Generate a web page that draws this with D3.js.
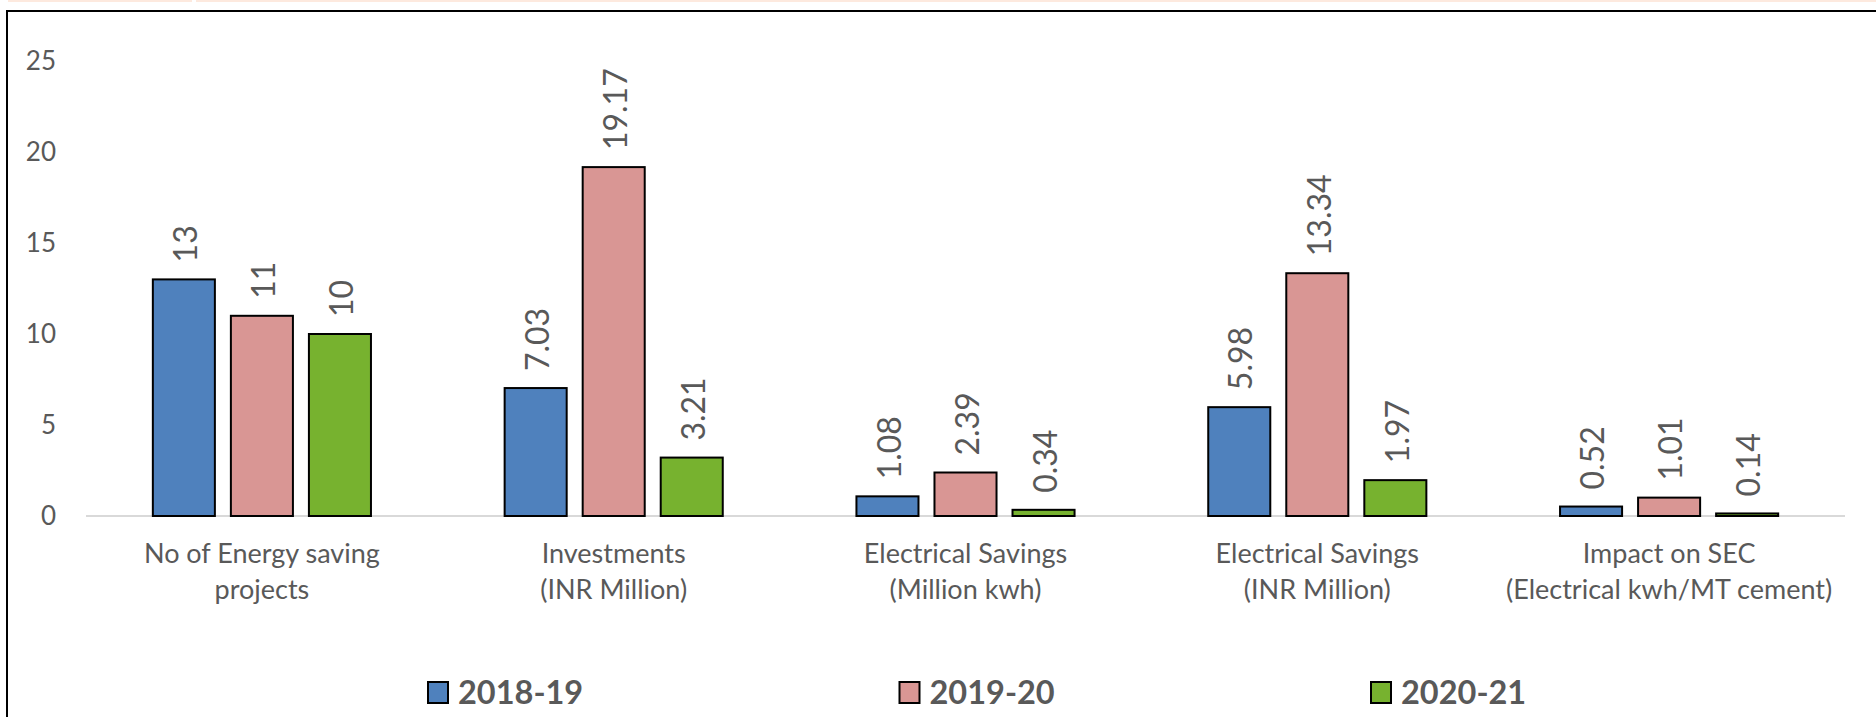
<!DOCTYPE html>
<html>
<head>
<meta charset="utf-8">
<script src="https://cdn.jsdelivr.net/npm/d3@7"></script>
<style>
    html, body { margin: 0; padding: 0; background: #ffffff; }
    svg { display: block; }
</style>
</head>
<body>
<div id="chart"></div>
<script>
// Chart data
var categories = [
    ["No of Energy saving", "projects"],
    ["Investments", "(INR Million)"],
    ["Electrical Savings", "(Million kwh)"],
    ["Electrical Savings", "(INR Million)"],
    ["Impact on SEC", "(Electrical kwh/MT cement)"]
];
var seriesNames = ["2018-19", "2019-20", "2020-21"];
var values2018 = [13, 7.03, 1.08, 5.98, 0.52];
var values2019 = [11, 19.17, 2.39, 13.34, 1.01];
var values2020 = [10, 3.21, 0.34, 1.97, 0.14];
var yTicks = [0, 5, 10, 15, 20, 25];

var seriesValues = [values2018, values2019, values2020];
var colors = ["#4f81bd", "#d99694", "#77b22f"];

var width = 1876,
    height = 717,
    textColor = "#595959",
    font = "Lato, 'Open Sans', sans-serif";

var svg = d3.select("#chart")
    .append("svg")
    .attr("width", width)
    .attr("height", height);

// Thin peach strip along the top edge and the chart frame (left + top only)
svg.append("rect").attr("x", 8).attr("y", 0).attr("width", 184).attr("height", 2).style("fill", "#fde9de");
svg.append("rect").attr("x", 196).attr("y", 0).attr("width", width - 196).attr("height", 2).style("fill", "#fde9de");
svg.append("line")
    .attr("x1", 7).attr("y1", 11).attr("x2", width).attr("y2", 11)
    .style("stroke", "#000").style("stroke-width", 2);
svg.append("line")
    .attr("x1", 7).attr("y1", 10).attr("x2", 7).attr("y2", height)
    .style("stroke", "#000").style("stroke-width", 2);

// Scales
var x0 = d3.scaleBand()
    .domain(d3.range(categories.length))
    .range([86, 1845])
    .paddingInner(0.38)
    .paddingOuter(0.19);

var x1 = d3.scaleBand()
    .domain(d3.range(seriesNames.length))
    .range([0, x0.bandwidth()])
    .paddingInner(0.205)
    .paddingOuter(0);

var y = d3.scaleLinear()
    .domain([0, 25])
    .range([516, 61]);

// Y axis labels (no line, no gridlines)
var yAxis = svg.append("g")
    .attr("transform", "translate(56,0)")
    .call(d3.axisLeft(y).tickValues(yTicks).tickSize(0).tickPadding(0));
yAxis.select(".domain").remove();
yAxis.selectAll("text")
    .style("font-family", font)
    .style("font-size", "26px")
    .style("fill", textColor);

// Category axis baseline
svg.append("line")
    .attr("x1", 86).attr("x2", 1845)
    .attr("y1", y(0)).attr("y2", y(0))
    .style("stroke", "#d9d9d9")
    .style("stroke-width", 2);

// Bars, one group per category
var groups = svg.selectAll(".cat")
    .data(categories)
    .enter()
    .append("g")
    .attr("class", "cat")
    .attr("transform", function(d, i) { return "translate(" + x0(i) + ",0)"; });

groups.selectAll("rect")
    .data(function(d, i) {
        return seriesValues.map(function(s, j) { return { s: j, v: s[i] }; });
    })
    .enter()
    .append("rect")
    .attr("x", function(d) { return x1(d.s); })
    .attr("y", function(d) { return y(d.v); })
    .attr("width", x1.bandwidth())
    .attr("height", function(d) { return y(0) - y(d.v); })
    .style("fill", function(d) { return colors[d.s]; })
    .style("stroke", "#000")
    .style("stroke-width", 2);

// Rotated value labels above each bar
groups.selectAll(".val")
    .data(function(d, i) {
        return seriesValues.map(function(s, j) { return { s: j, v: s[i] }; });
    })
    .enter()
    .append("text")
    .attr("class", "val")
    .attr("transform", function(d) {
        return "translate(" + (x1(d.s) + x1.bandwidth() / 2 + 2) + "," + (y(d.v) - 17) + ") rotate(-90)";
    })
    .attr("dy", "0.35em")
    .style("font-family", font)
    .style("font-size", "32px")
    .style("fill", textColor)
    .text(function(d) { return d.v; });

// Two-line category labels
var catLabels = svg.selectAll(".catLabel")
    .data(categories)
    .enter()
    .append("text")
    .attr("class", "catLabel")
    .attr("text-anchor", "middle")
    .style("font-family", font)
    .style("font-size", "27px")
    .style("fill", textColor);

catLabels.selectAll("tspan")
    .data(function(d, i) { return d.map(function(t) { return { t: t, i: i }; }); })
    .enter()
    .append("tspan")
    .attr("x", function(d) { return x0(d.i) + x0.bandwidth() / 2; })
    .attr("y", function(d, k) { return 563 + k * 36; })
    .text(function(d) { return d.t; });

// Legend
var legend = svg.selectAll(".legend")
    .data(seriesNames)
    .enter()
    .append("g")
    .attr("class", "legend")
    .attr("transform", function(d, i) { return "translate(" + (428 + i * 471.5) + ",682)"; });

legend.append("rect")
    .attr("width", 20)
    .attr("height", 21)
    .style("fill", function(d, i) { return colors[i]; })
    .style("stroke", "#000")
    .style("stroke-width", 2);

legend.append("text")
    .attr("x", 30)
    .attr("y", 21.5)
    .style("font-family", font)
    .style("font-size", "32.5px")
    .style("font-weight", "bold")
    .style("fill", textColor)
    .text(function(d) { return d; });
</script>
</body>
</html>
